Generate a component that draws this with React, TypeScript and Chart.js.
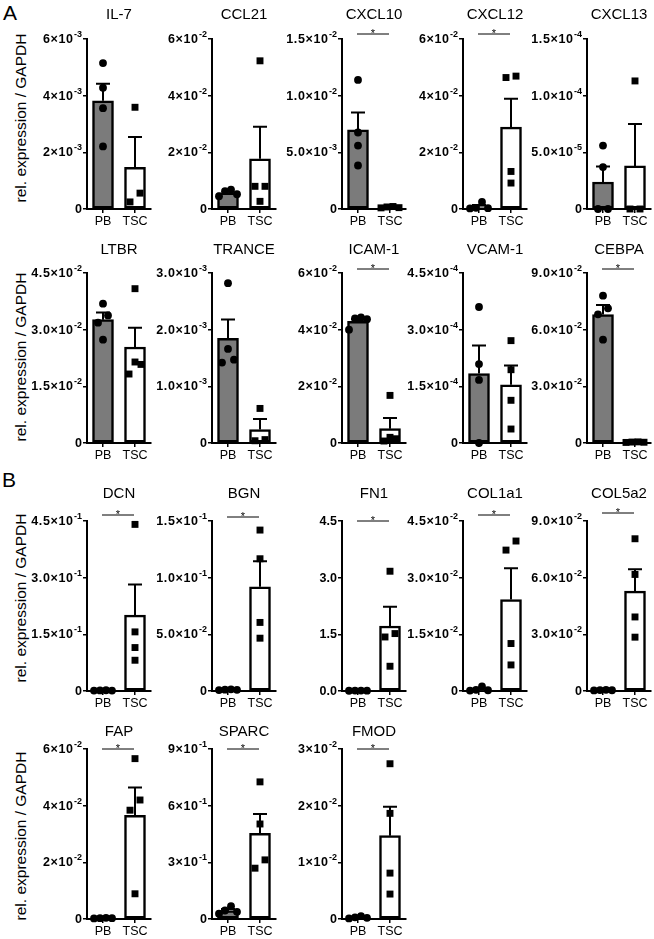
import React, { useEffect, useRef } from 'react';
import { Chart, registerables } from 'chart.js';

Chart.register(...registerables);

// ---------------- data ----------------
const GROUPS = ['PB', 'TSC'];

const GENES = [
  'IL-7', 'CCL21', 'CXCL10', 'CXCL12', 'CXCL13',
  'LTBR', 'TRANCE', 'ICAM-1', 'VCAM-1', 'CEBPA',
  'DCN', 'BGN', 'FN1', 'COL1a1', 'COL5a2',
  'FAP', 'SPARC', 'FMOD',
];

const PB_VALUES = [
  [5.15e-3, 4.28e-3, 3.56e-3, 2.21e-3],
  [0.0068, 0.0063, 0.0052, 0.0045],
  [0.01139, 0.00675, 0.0056, 0.00384],
  [0.0025, 0.0004, 0.0003, 0.0002],
  [5.6e-5, 3.7e-5, 0, 0],
  [0.03687, 0.03378, 0.03184, 0.02734],
  [2.82e-3, 1.66e-3, 1.47e-3, 1.42e-3],
  [0.0443, 0.0440, 0.0437, 0.0400],
  [3.6e-4, 2.09e-4, 1.67e-4, 0],
  [0.078, 0.0713, 0.0681, 0.0547],
  [0.002, 0.0015, 0.0012, 0.001],
  [0.0015, 0.0012, 0.001, 0.0008],
  [0.012, 0.01, 0.008, 0.006],
  [0.0012, 0.0003, 0.0002, 0.0001],
  [0.0006, 0.0005, 0.0004, 0.0003],
  [0.0004, 0.0003, 0.0003, 0.0002],
  [0.068, 0.045, 0.038, 0.028],
  [0.0005, 0.0003, 0.0002, 0.0001],
];

const TSC_VALUES = [
  [3.59e-3, 0.56e-3, 0.25e-3],
  [0.0523, 0.0080, 0.0080, 0.0027],
  [0.00022, 0.00018, 0.00012, 0.0001],
  [0.0469, 0.0464, 0.01325, 0.00916],
  [1.13e-4, 0, 0],
  [0.04085, 0.02144, 0.0208, 0.01826],
  [0.61e-3, 0.06e-3, 0.04e-3],
  [0.0168, 0.002, 0.0015, 0.0007],
  [2.71e-4, 1.94e-4, 1.13e-4, 0.37e-4],
  [0.0006, 0.0005, 0.0004, 0.0003],
  [0.441, 0.1565, 0.115, 0.0814],
  [0.142, 0.1167, 0.0605, 0.0466],
  [3.17, 1.52, 1.43, 0.655],
  [0.0397, 0.0373, 0.01257, 0.0069],
  [0.0806, 0.0617, 0.0392, 0.0285],
  [0.0566, 0.042, 0.0384, 0.0089],
  [0.726, 0.503, 0.313, 0.269],
  [0.0274, 0.01864, 0.0081, 0.0044],
];

// [PB mean, TSC mean]
const MEANS = [
  [3.82e-3, 1.47e-3],
  [0.0057, 0.0177],
  [0.00698, 0.00016],
  [0.00085, 0.0289],
  [2.38e-5, 3.8e-5],
  [0.03264, 0.02541],
  [1.846e-3, 0.237e-3],
  [0.0429, 0.00505],
  [1.84e-4, 1.54e-4],
  [0.068, 0.00045],
  [0.0014, 0.2007],
  [0.0011, 0.0919],
  [0.009, 1.72],
  [0.0004, 0.0242],
  [0.00045, 0.0529],
  [0.0003, 0.0366],
  [0.045, 0.453],
  [0.00028, 0.0147],
];

// [PB SEM, TSC SEM]
const SEMS = [
  [0.60e-3, 1.07e-3],
  [0.0005, 0.0113],
  [0.00153, 0.00003],
  [0.00055, 0.0100],
  [1.37e-5, 3.7e-5],
  [0.00193, 0.00511],
  [0.334e-3, 0.185e-3],
  [0.0008, 0.0038],
  [0.74e-4, 0.51e-4],
  [0.005, 0.00005],
  [0.0002, 0.081],
  [0.00015, 0.0225],
  [0.001, 0.51],
  [0.00025, 0.0083],
  [0.00007, 0.0115],
  [0.00004, 0.0098],
  [0.0085, 0.103],
  [0.00008, 0.0051],
];

const Y_MAX = [
  6e-3, 6e-2, 1.5e-2, 6e-2, 1.5e-4,
  4.5e-2, 3e-3, 6e-2, 4.5e-4, 9e-2,
  4.5e-1, 1.5e-1, 4.5, 4.5e-2, 9e-2,
  6e-2, 9e-1, 3e-2,
];

const Y_TICK_LABELS = [
  ['0', '2×10⁻³', '4×10⁻³', '6×10⁻³'],
  ['0', '2×10⁻²', '4×10⁻²', '6×10⁻²'],
  ['0', '5.0×10⁻³', '1.0×10⁻²', '1.5×10⁻²'],
  ['0', '2×10⁻²', '4×10⁻²', '6×10⁻²'],
  ['0', '5.0×10⁻⁵', '1.0×10⁻⁴', '1.5×10⁻⁴'],
  ['0', '1.5×10⁻²', '3.0×10⁻²', '4.5×10⁻²'],
  ['0', '1.0×10⁻³', '2.0×10⁻³', '3.0×10⁻³'],
  ['0', '2×10⁻²', '4×10⁻²', '6×10⁻²'],
  ['0', '1.5×10⁻⁴', '3.0×10⁻⁴', '4.5×10⁻⁴'],
  ['0', '3.0×10⁻²', '6.0×10⁻²', '9.0×10⁻²'],
  ['0', '1.5×10⁻¹', '3.0×10⁻¹', '4.5×10⁻¹'],
  ['0', '5.0×10⁻²', '1.0×10⁻¹', '1.5×10⁻¹'],
  ['0.0', '1.5', '3.0', '4.5'],
  ['0', '1.5×10⁻²', '3.0×10⁻²', '4.5×10⁻²'],
  ['0', '3.0×10⁻²', '6.0×10⁻²', '9.0×10⁻²'],
  ['0', '2×10⁻²', '4×10⁻²', '6×10⁻²'],
  ['0', '3×10⁻¹', '6×10⁻¹', '9×10⁻¹'],
  ['0', '1×10⁻²', '2×10⁻²', '3×10⁻²'],
];

const SIGNIFICANT = [
  false, false, true, true, false,
  false, false, true, false, true,
  true, true, true, true, true,
  true, true, true,
];

const Y_LABEL = 'rel. expression / GAPDH';

// ---------------- layout / style ----------------
const FONT = '"Liberation Sans", Arial, Helvetica, sans-serif';
const COL_X = [87, 212, 342, 463, 587];
const ROW_TOP = [39, 273, 521, 749];
const TITLE_OFFSET = [24, 23, 27, 17];
const YLABEL_CY = [118, 357, 598, 836];
const SIG_GAP = [
  0, 0, 5, 5, 0,
  0, 0, 4, 0, 4,
  6, 4, 0, 6, 8,
  0, 0, 0,
];
const PLOT_W = 64;
const PLOT_H = 170;
const PAD_L = 84;
const PAD_R = 8;
const PAD_T = 40;
const PAD_B = 26;
const UNIT_PX = PLOT_W / 2;

const SUP_MAP: Record<string, string> = {
  '⁻': '-', '⁰': '0', '¹': '1', '²': '2', '³': '3', '⁴': '4',
  '⁵': '5', '⁶': '6', '⁷': '7', '⁸': '8', '⁹': '9',
};

function splitLabel(label: string): [string, string] {
  let k = label.length;
  while (k > 0 && SUP_MAP[label[k - 1]] !== undefined) k--;
  const base = label.slice(0, k);
  const exp = label
    .slice(k)
    .split('')
    .map((c) => SUP_MAP[c])
    .join('');
  return [base, exp];
}

function jitter(values: number[], max: number): number[] {
  const T = 11;
  const idx = values.map((_, k) => k).sort((a, b) => values[b] - values[a]);
  const off = new Array(values.length).fill(0);
  let k = 0;
  while (k < idx.length) {
    let j = k;
    while (j + 1 < idx.length && ((values[idx[j]] - values[idx[j + 1]]) / max) * PLOT_H < T) j++;
    const n = j - k + 1;
    const s = n === 2 ? 10 : 6;
    for (let m = 0; m < n; m++) {
      let slot: number;
      if (n % 2 === 1) slot = m === 0 ? 0 : Math.ceil(m / 2) * (m % 2 === 1 ? 1 : -1);
      else slot = (Math.floor(m / 2) + 0.5) * (m % 2 === 0 ? 1 : -1);
      off[idx[k + m]] = (slot * s) / UNIT_PX;
    }
    k = j + 1;
  }
  return off;
}

function Panel({ i }: { i: number }) {
  const ref = useRef<HTMLCanvasElement | null>(null);
  const row = Math.floor(i / 5);
  const col = i % 5;
  const W = PAD_L + PLOT_W + PAD_R;
  const H = PAD_T + PLOT_H + PAD_B;

  useEffect(() => {
    const max = Y_MAX[i];
    const tickVals = [0, max / 3, (2 * max) / 3, max];
    const pbOff = jitter(PB_VALUES[i], max);
    const tscOff = jitter(TSC_VALUES[i], max);
    const titleCenter = PAD_T - TITLE_OFFSET[row];
    const pt = titleCenter - 9;
    const pb = PAD_T - 18 - pt;

    const chart = new Chart(ref.current as HTMLCanvasElement, {
      type: 'bar',
      data: {
        datasets: [
          {
            type: 'bar',
            data: MEANS[i].map((m, k) => ({ x: k, y: m })),
            backgroundColor: ['#7b7b7b', '#ffffff'],
            borderColor: '#000',
            borderWidth: 2.5,
            borderSkipped: false,
            barThickness: 21,
            order: 2,
            clip: false,
          } as any,
          {
            type: 'scatter',
            data: PB_VALUES[i].map((v, k) => ({ x: 0 + pbOff[k], y: v })),
            pointStyle: 'circle',
            pointRadius: 3.9,
            backgroundColor: '#000',
            borderColor: '#000',
            borderWidth: 0,
            order: 1,
            clip: false,
          } as any,
          {
            type: 'scatter',
            data: TSC_VALUES[i].map((v, k) => ({ x: 1 + tscOff[k], y: v })),
            pointStyle: 'rect',
            pointRadius: 4.9,
            backgroundColor: '#000',
            borderColor: '#000',
            borderWidth: 0,
            order: 1,
            clip: false,
          } as any,
        ],
      },
      options: {
        responsive: false,
        animation: false,
        events: [],
        layout: { padding: { left: 0, right: PAD_R, top: 0, bottom: 0 } },
        plugins: {
          legend: { display: false },
          tooltip: { enabled: false },
          title: {
            display: true,
            text: GENES[i],
            fullSize: false,
            color: '#000',
            font: { family: FONT, size: 15, weight: 'normal', lineHeight: 1.2 },
            padding: { top: pt, bottom: pb },
          },
        },
        scales: {
          x: {
            type: 'linear',
            min: -0.5,
            max: 1.5,
            offset: false,
            afterBuildTicks: (s: any) => {
              s.ticks = [{ value: 0 }, { value: 1 }];
            },
            afterFit: (s: any) => {
              s.height = PAD_B;
            },
            ticks: {
              callback: (v: any) => GROUPS[Math.round(Number(v))],
              color: '#000',
              font: { family: FONT, size: 12.5 },
              padding: 1,
              maxRotation: 0,
              autoSkip: false,
            },
            grid: {
              display: true,
              drawOnChartArea: false,
              drawTicks: true,
              tickLength: 4,
              color: '#000',
              lineWidth: 1.5,
              offset: false,
            },
            border: { display: true, color: '#000', width: 2 },
          } as any,
          y: {
            type: 'linear',
            min: 0,
            max,
            afterBuildTicks: (s: any) => {
              s.ticks = tickVals.map((v) => ({ value: v }));
            },
            afterFit: (s: any) => {
              s.width = PAD_L;
            },
            ticks: {
              display: false,
              callback: (_v: any, idx: number) => Y_TICK_LABELS[i][idx],
              autoSkip: false,
            },
            grid: {
              display: true,
              drawOnChartArea: false,
              drawTicks: true,
              tickLength: 4,
              color: '#000',
              lineWidth: 1.5,
            },
            border: { display: true, color: '#000', width: 2 },
          } as any,
        },
      },
      plugins: [
        {
          id: 'sciTicks',
          afterDraw(c: any) {
            const { ctx } = c;
            const ys = c.scales.y;
            const xEnd = c.chartArea.left - 5;
            ctx.save();
            ctx.fillStyle = '#000';
            ctx.textBaseline = 'middle';
            ctx.textAlign = 'left';
            tickVals.forEach((v, k) => {
              const [base, exp] = splitLabel(Y_TICK_LABELS[i][k]);
              const py = ys.getPixelForValue(v);
              ctx.font = `bold 9px ${FONT}`;
              const we = exp ? ctx.measureText(exp).width + 0.5 : 0;
              ctx.font = `bold 12.5px ${FONT}`;
              try { (ctx as any).letterSpacing = exp ? '0.6px' : '0px'; } catch (e) {}
              const wb = ctx.measureText(base).width;
              ctx.fillText(base, xEnd - we - wb, py + 0.5);
              try { (ctx as any).letterSpacing = '0px'; } catch (e) {}
              if (exp) {
                ctx.font = `bold 9px ${FONT}`;
                ctx.fillText(exp, xEnd - we + 0.5, py - 4.5);
              }
            });
            ctx.restore();
          },
        },
        {
          id: 'errorBars',
          afterDatasetDraw(c: any, args: any) {
            if (args.index !== 0) return;
            const { ctx } = c;
            const xs = c.scales.x;
            const ys = c.scales.y;
            ctx.save();
            ctx.strokeStyle = '#000';
            ctx.lineWidth = 2;
            MEANS[i].forEach((m, k) => {
              const px = xs.getPixelForValue(k);
              const y0 = ys.getPixelForValue(m);
              const y1 = ys.getPixelForValue(m + SEMS[i][k]);
              if (y0 - y1 < 1.5) return;
              ctx.beginPath();
              ctx.moveTo(px, y0);
              ctx.lineTo(px, y1);
              ctx.moveTo(px - 7, y1);
              ctx.lineTo(px + 7, y1);
              ctx.stroke();
            });
            ctx.restore();
          },
        },
        {
          id: 'significance',
          afterDraw(c: any) {
            if (!SIGNIFICANT[i]) return;
            const { ctx } = c;
            const xs = c.scales.x;
            const yy = c.chartArea.top - SIG_GAP[i];
            const x0 = xs.getPixelForValue(0) - 1;
            const x1 = xs.getPixelForValue(1) - 1;
            ctx.save();
            ctx.strokeStyle = '#000';
            ctx.lineWidth = 1;
            ctx.beginPath();
            ctx.moveTo(x0, yy);
            ctx.lineTo(x1, yy);
            ctx.stroke();
            ctx.fillStyle = '#000';
            ctx.font = `11px ${FONT}`;
            ctx.textAlign = 'center';
            ctx.textBaseline = 'alphabetic';
            ctx.fillText('*', (x0 + x1) / 2, yy + 3);
            ctx.restore();
          },
        },
      ],
    } as any);
    return () => chart.destroy();
  }, [i]);

  return (
    <canvas
      ref={ref}
      width={W}
      height={H}
      style={{
        position: 'absolute',
        left: COL_X[col] - PAD_L,
        top: ROW_TOP[row] - PAD_T,
        width: W,
        height: H,
      }}
    />
  );
}

export default function App() {
  return (
    <div
      style={{
        position: 'absolute',
        left: 0,
        top: 0,
        width: 654,
        height: 939,
        background: '#fff',
        overflow: 'hidden',
        fontFamily: FONT,
        color: '#000',
      }}
    >
      <div style={{ position: 'absolute', left: 3, top: 2, fontSize: 21, lineHeight: 1 }}>A</div>
      <div style={{ position: 'absolute', left: 2, top: 469, fontSize: 21, lineHeight: 1 }}>B</div>
      {YLABEL_CY.map((cy, r) => (
        <div
          key={'yl' + r}
          style={{
            position: 'absolute',
            left: 21 - 100,
            top: cy - 8,
            width: 200,
            height: 16,
            lineHeight: '16px',
            fontSize: 15.5,
            textAlign: 'center',
            whiteSpace: 'nowrap',
            transform: 'rotate(-90deg)',
            transformOrigin: '50% 50%',
          }}
        >
          {Y_LABEL}
        </div>
      ))}
      {GENES.map((_, i) => (
        <Panel key={i} i={i} />
      ))}
    </div>
  );
}
